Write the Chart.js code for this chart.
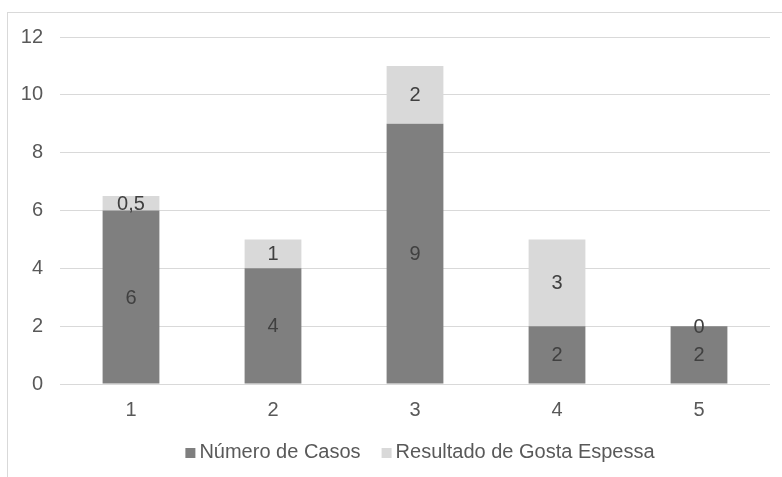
<!DOCTYPE html>
<html>
<head>
<meta charset="utf-8">
<script src="https://cdn.jsdelivr.net/npm/chart.js@4/dist/chart.umd.min.js"></script>
<style>
  body { margin: 0; background: #fff; overflow: hidden; }
  #frame { position: absolute; left: 7px; top: 12px; width: 900px; height: 600px; border: 1px solid #d9d9d9; }
  #chart { position: absolute; left: 0; top: 0; }
</style>
</head>
<body>
<div id="frame"></div>
<canvas id="chart" width="782" height="477"></canvas>
<script>
const categories = ['1', '2', '3', '4', '5'];
const casos = [6, 4, 9, 2, 2];
const gosta = [0.5, 1, 2, 3, 0];
const yTicks = [0, 2, 4, 6, 8, 10, 12];

const FONT = 'Liberation Sans, Arial, Helvetica, sans-serif';
const SIZE = 20;
const fmt = (v) => String(v).replace('.', ',');

// value labels in the middle of each stacked segment
const valueLabels = {
    id: 'valueLabels',
    afterDatasetsDraw(chart) {
        const ctx = chart.ctx;
        ctx.save();
        ctx.font = SIZE + 'px ' + FONT;
        ctx.fillStyle = '#404040';
        ctx.textAlign = 'center';
        ctx.textBaseline = 'middle';
        chart.data.datasets.forEach((ds, i) => {
            chart.getDatasetMeta(i).data.forEach((bar, j) => {
                const { x, y, base } = bar.getProps(['x', 'y', 'base'], true);
                ctx.fillText(fmt(ds.data[j]), x, (y + base) / 2 + 1);
            });
        });
        ctx.restore();
    }
};

// legend drawn by hand so the box/text gaps match
const bottomLegend = {
    id: 'bottomLegend',
    afterDraw(chart) {
        const { ctx, chartArea } = chart;
        ctx.save();
        ctx.font = SIZE + 'px ' + FONT;
        ctx.textBaseline = 'middle';
        const box = 10, gap = 4, spacing = 21, y = 452;
        const items = chart.data.datasets.map(ds => ({
            text: ds.label, color: ds.backgroundColor, w: ctx.measureText(ds.label).width
        }));
        const total = items.reduce((s, it) => s + box + gap + it.w, 0) + spacing * (items.length - 1);
        let x = (chartArea.left + chartArea.right) / 2 - total / 2 + 5;
        items.forEach(it => {
            ctx.fillStyle = it.color;
            ctx.fillRect(x, y - box / 2 + 1, box, box);
            x += box + gap;
            ctx.fillStyle = '#595959';
            ctx.fillText(it.text, x, y);
            x += it.w + spacing;
        });
        ctx.restore();
    }
};

new Chart(document.getElementById('chart'), {
    type: 'bar',
    data: {
        labels: categories,
        datasets: [
            { label: 'Número de Casos', data: casos, backgroundColor: '#7f7f7f' },
            { label: 'Resultado de Gosta Espessa', data: gosta, backgroundColor: '#d9d9d9' }
        ]
    },
    options: {
        responsive: false,
        animation: false,
        categoryPercentage: 0.8,
        barPercentage: 0.5,
        layout: { padding: { left: 0, top: 37, right: 12, bottom: 53 } },
        plugins: {
            legend: { display: false },
            tooltip: { enabled: false }
        },
        scales: {
            x: {
                stacked: true,
                grid: { display: false },
                border: { display: false },
                ticks: { padding: 6, color: '#595959', font: { size: SIZE, family: FONT } },
                afterFit: (s) => { s.height = 40; }
            },
            y: {
                stacked: true,
                min: 0,
                max: 12,
                afterBuildTicks: (s) => { s.ticks = yTicks.map(v => ({ value: v })); },
                grid: { color: '#d9d9d9', lineWidth: 1, drawTicks: false },
                border: { display: false },
                ticks: { padding: 17, color: '#595959', font: { size: SIZE, family: FONT } },
                afterFit: (s) => { s.width = 60; }
            }
        }
    },
    plugins: [valueLabels, bottomLegend]
});
</script>
</body>
</html>
